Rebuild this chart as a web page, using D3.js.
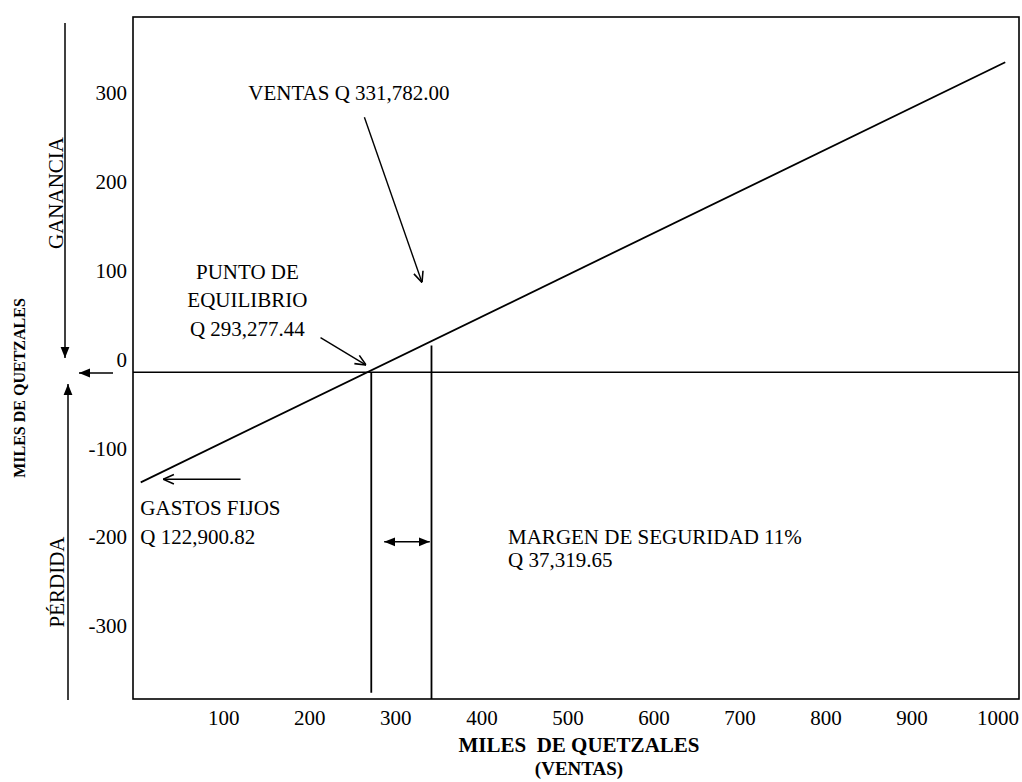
<!DOCTYPE html>
<html>
<head>
<meta charset="utf-8">
<script src="https://cdn.jsdelivr.net/npm/d3@7"></script>
<style>
  body { margin: 0; background: #fff; }
  text { font-family: "Liberation Serif", "Times New Roman", serif; fill: #000; }
</style>
</head>
<body>
<div id="Chart"></div>
<script>
// tick labels (miles de quetzales)
var xTicks = [100, 200, 300, 400, 500, 600, 700, 800, 900, 1000];
var yTicks = [300, 200, 100, 0, -100, -200, -300];

// profit line: ventas vs ganancia/perdida (as drawn)
var salesPts = [4, 1009];
var profitPts = [-124, 349];

// break-even and actual sales verticals
var breakEvenSales = 272;
var actualSales = 342;
var actualTop = 30;

// annotation texts
var ventasText = ["VENTAS Q 331,782.00"];
var equilibrioText = ["PUNTO DE", "EQUILIBRIO", "Q 293,277.44"];
var gastosText = ["GASTOS FIJOS", "Q 122,900.82"];
var margenText = ["MARGEN DE SEGURIDAD 11%", "Q 37,319.65"];

var margin = { top: 17, right: 3, bottom: 83, left: 133 };
var width = 1022 - margin.left - margin.right;
var height = 782 - margin.top - margin.bottom;

var svg = d3.select("#Chart")
    .append("svg")
    .attr("width", width + margin.left + margin.right)
    .attr("height", height + margin.top + margin.bottom);

var defs = svg.append("defs");
defs.append("marker")
    .attr("id", "open")
    .attr("viewBox", "0 0 10 10")
    .attr("refX", 10).attr("refY", 5)
    .attr("markerWidth", 12).attr("markerHeight", 12)
    .attr("markerUnits", "userSpaceOnUse")
    .attr("orient", "auto-start-reverse")
    .append("path")
    .attr("d", "M1,1 L10,5 L1,9")
    .attr("fill", "none")
    .attr("stroke", "#000")
    .attr("stroke-width", 1.3);
defs.append("marker")
    .attr("id", "filled")
    .attr("viewBox", "0 0 10 10")
    .attr("refX", 10).attr("refY", 5)
    .attr("markerWidth", 11).attr("markerHeight", 11)
    .attr("markerUnits", "userSpaceOnUse")
    .attr("orient", "auto-start-reverse")
    .append("path")
    .attr("d", "M0,1 L10,5 L0,9 Z")
    .attr("fill", "#000");

var chart = svg.append("g")
    .attr("transform", "translate(" + margin.left + "," + margin.top + ")");

var x = d3.scaleLinear()
    .domain([-5, 1025])
    .range([0, width]);

var y = d3.scaleLinear()
    .domain([-368, 400])
    .range([height, 0]);

// axes (labels only, frame drawn as a box)
var xAxis = chart.append("g")
    .attr("transform", "translate(0," + height + ")")
    .call(d3.axisBottom(x).tickValues(xTicks).tickSize(0).tickPadding(11).tickFormat(function (d) { return String(d); }));
xAxis.select(".domain").remove();
xAxis.selectAll("text").style("font-size", "21px").style("font-family", "Liberation Serif");

var yAxis = chart.append("g")
    .call(d3.axisLeft(y).tickValues(yTicks).tickSize(0).tickPadding(6).tickFormat(function (d) { return String(d); }));
yAxis.select(".domain").remove();
yAxis.selectAll("text")
    .attr("dy", "-0.28em")
    .style("font-size", "21px")
    .style("font-family", "Liberation Serif");

// frame
chart.append("rect")
    .attr("x", 0).attr("y", 0)
    .attr("width", width).attr("height", height)
    .attr("fill", "none")
    .attr("stroke", "#000")
    .attr("stroke-width", 1.6);

// zero line
chart.append("line")
    .attr("x1", 0).attr("x2", width)
    .attr("y1", y(0)).attr("y2", y(0))
    .attr("stroke", "#000").attr("stroke-width", 1.6);

// profit line
var pts = salesPts.map(function (d, i) { return [d, profitPts[i]]; });
chart.append("path")
    .datum(pts)
    .attr("d", d3.line().x(function (d) { return x(d[0]); }).y(function (d) { return y(d[1]); }))
    .attr("fill", "none")
    .attr("stroke", "#000")
    .attr("stroke-width", 1.8);

// verticals
chart.append("line")
    .attr("x1", x(breakEvenSales)).attr("x2", x(breakEvenSales))
    .attr("y1", y(0)).attr("y2", y(-361))
    .attr("stroke", "#000").attr("stroke-width", 1.8);
chart.append("line")
    .attr("x1", x(actualSales)).attr("x2", x(actualSales))
    .attr("y1", y(actualTop)).attr("y2", height)
    .attr("stroke", "#000").attr("stroke-width", 1.8);

// annotation arrows
var arrows = [
  { s1: 264, v1: 287, s2: 331, v2: 101, m: "open", start: false },
  { s1: 213, v1: 39, s2: 266, v2: 8, m: "open", start: false },
  { s1: 120, v1: -120.5, s2: 30, v2: -120.5, m: "open", start: false },
  { s1: 287, v1: -191, s2: 340, v2: -191, m: "filled", start: true }
];
chart.selectAll(".arrow")
    .data(arrows)
    .enter()
    .append("line")
    .attr("class", "arrow")
    .attr("x1", function (d) { return x(d.s1); })
    .attr("y1", function (d) { return y(d.v1); })
    .attr("x2", function (d) { return x(d.s2); })
    .attr("y2", function (d) { return y(d.v2); })
    .attr("stroke", "#000")
    .attr("stroke-width", 1.4)
    .attr("marker-end", function (d) { return "url(#" + d.m + ")"; })
    .attr("marker-start", function (d) { return d.start ? "url(#" + d.m + ")" : null; });

// annotation texts
function note(lines, sales, value, lineHeight, anchor) {
  chart.append("g").selectAll("text")
      .data(lines)
      .enter()
      .append("text")
      .attr("x", x(sales))
      .attr("y", function (d, i) { return y(value) + i * lineHeight; })
      .attr("dy", "0.33em")
      .attr("text-anchor", anchor)
      .style("font-size", "21px")
      .text(function (d) { return d; });
}
note(ventasText, 129, 314, 0, "start");
note(equilibrioText, 128, 113, 28.5, "middle");
note(gastosText, 3.5, -153, 29, "start");
note(margenText, 431, -186, 23, "start");

// axis titles
svg.append("text")
    .attr("x", 579).attr("y", 745)
    .attr("dy", "0.33em")
    .attr("text-anchor", "middle")
    .style("font-size", "21px")
    .style("font-weight", "bold")
    .style("white-space", "pre")
    .text("MILES  DE QUETZALES");
svg.append("text")
    .attr("x", 579).attr("y", 769)
    .attr("dy", "0.33em")
    .attr("text-anchor", "middle")
    .style("font-size", "19px")
    .style("font-weight", "bold")
    .text("(VENTAS)");
svg.append("text")
    .attr("transform", "translate(20,388) rotate(-90)")
    .attr("dy", "0.33em")
    .attr("text-anchor", "middle")
    .style("font-size", "16px")
    .style("font-weight", "bold")
    .text("MILES DE QUETZALES");
svg.append("text")
    .attr("transform", "translate(56,193) rotate(-90)")
    .attr("dy", "0.33em")
    .attr("text-anchor", "middle")
    .style("font-size", "21px")
    .text("GANANCIA");
svg.append("text")
    .attr("transform", "translate(57,582) rotate(-90)")
    .attr("dy", "0.33em")
    .attr("text-anchor", "middle")
    .style("font-size", "21px")
    .text("PÉRDIDA");

// side arrows: ganancia, perdida, miles
var side = [[65, 23, 65, 358], [113, 373, 79, 373], [68, 700, 68, 384]];
svg.selectAll(".side")
    .data(side)
    .enter()
    .append("line")
    .attr("class", "side")
    .attr("x1", function (d) { return d[0]; })
    .attr("y1", function (d) { return d[1]; })
    .attr("x2", function (d) { return d[2]; })
    .attr("y2", function (d) { return d[3]; })
    .attr("stroke", "#000")
    .attr("stroke-width", 1.5)
    .attr("marker-end", "url(#filled)");
</script>
</body>
</html>
